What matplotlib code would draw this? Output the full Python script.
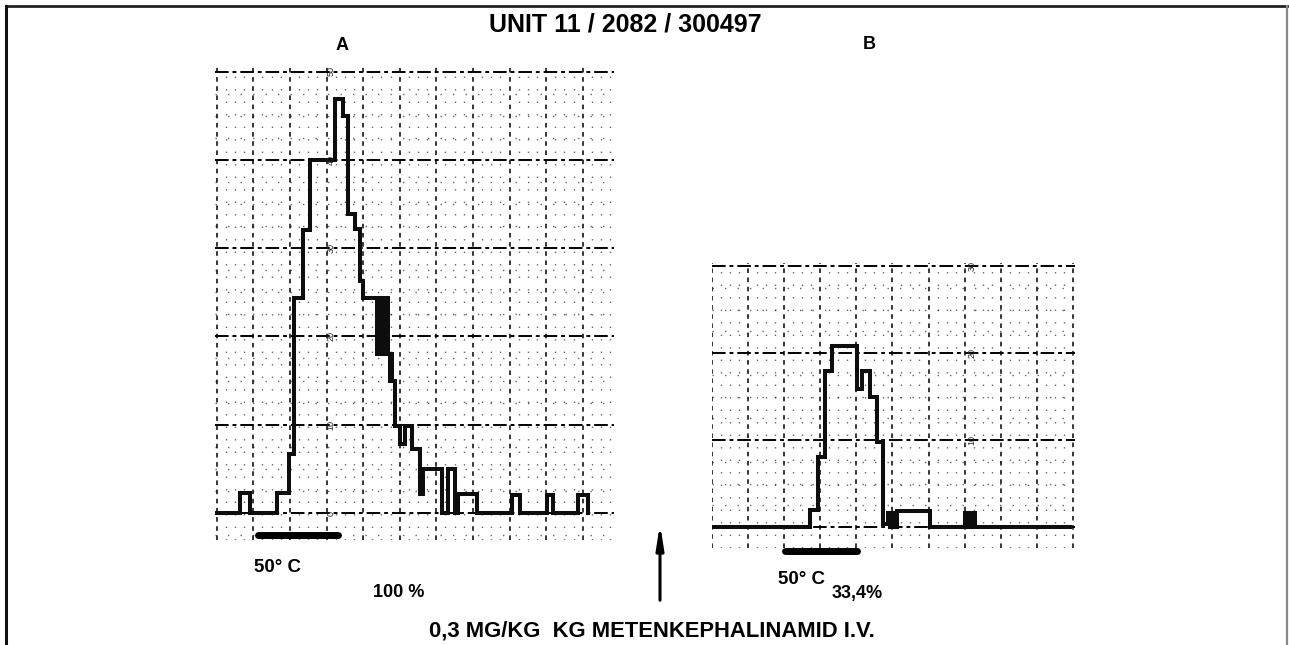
import matplotlib
matplotlib.use("Agg")
import matplotlib.pyplot as plt
from matplotlib.ticker import MultipleLocator
from matplotlib.lines import Line2D

plt.rcParams["font.family"] = ["Liberation Sans", "DejaVu Sans"]

W, H = 1289, 645

# Recording A (control): step edges in chart divisions and counts per bin
a_edges = [0.00, 0.64, 0.91, 1.64, 1.98, 2.10, 2.37, 2.55, 3.23, 3.46, 3.60, 3.78, 3.92, 4.01,
           4.37, 4.41, 4.45, 4.49, 4.53, 4.57, 4.61, 4.65, 4.69, 4.73, 4.77, 4.80, 4.87,
           5.01, 5.14, 5.33, 5.56, 5.65, 6.15, 6.33, 6.51, 6.60, 7.10, 8.06, 8.28, 9.02,
           9.20, 9.88, 10.15]
a_counts = [0, 2.3, 0, 2.3, 6.7, 24.3, 32.0, 40.0, 46.9, 45.0, 33.9, 32.2, 26.3, 24.3,
            18.0, 24.3, 18.0, 24.3, 18.0, 24.3, 18.0, 24.3, 18.0, 15.0, 18.0, 15.0, 9.9,
            7.8, 9.9, 7.3, 2.2, 5.0, 0, 5.0, 0, 2.2, 0, 2.0, 0, 2.0,
            0, 2.0, 0]

# Recording B (after metenkephalinamide)
b_edges = [0.00, 2.72, 2.95, 3.13, 3.32, 4.01, 4.15, 4.38, 4.57, 4.75,
           4.89, 4.93, 4.97, 5.01, 5.05, 5.09, 5.12, 6.05,
           7.00, 7.04, 7.08, 7.12, 7.16, 7.20, 7.24, 7.29, 7.33, 9.92]
b_counts = [0, 2.0, 8.1, 17.9, 20.8, 15.9, 17.9, 14.9, 9.8, 0.3,
            1.6, 0, 1.6, 0, 1.6, 0, 1.8, 0,
            1.6, 0, 1.6, 0, 1.6, 0, 1.6, 0, 0, 0]

# 50 °C heating periods (chart divisions)
heat_a = (1.13, 3.32)
heat_b = (2.02, 4.01)

# scale marks written on the chart paper
scale_a = [0, 10, 20, 30, 40, 50]
scale_b = [10, 20, 30]

title = "UNIT 11 / 2082 / 300497"
note = "0,3 MG/KG  KG METENKEPHALINAMID I.V."
resp_a = "100 %"
resp_b = "33,4%"

fig = plt.figure(figsize=(W / 100, H / 100), dpi=100)

bg = fig.add_axes([0, 0, 1, 1])
bg.set_xlim(0, W)
bg.set_ylim(H, 0)
bg.axis("off")


def px_axes(x0, y0, x1, y1):
    return fig.add_axes([x0 / W, 1 - y1 / H, (x1 - x0) / W, (y1 - y0) / H])


def chart_paper(ax, ymajor):
    ax.xaxis.set_major_locator(MultipleLocator(1))
    ax.xaxis.set_minor_locator(MultipleLocator(0.25))
    ax.yaxis.set_major_locator(MultipleLocator(ymajor))
    ax.yaxis.set_minor_locator(MultipleLocator(ymajor / 4))
    ax.grid(True, axis="y", which="major", color="black", lw=1.4, ls=(0, (7, 2, 2, 2)))
    ax.grid(True, axis="x", which="major", color="black", lw=1.1, ls=(0, (3, 3)))
    ax.grid(True, which="minor", color="black", lw=1.0, ls=(0, (1, 8)), alpha=0.6)
    ax.tick_params(which="both", length=0, labelbottom=False, labelleft=False)
    for s in ax.spines.values():
        s.set_visible(False)
    ax.set_facecolor("none")
    ax.set_axisbelow(True)


# panel A: 36.6 px per division, 8.83 px per count
ax_a = px_axes(216.7 - 0.05 * 36.6, 513 - 50.6 * 8.83, 216.7 + 10.85 * 36.6, 513 + 3.1 * 8.83)
ax_a.set_xlim(-0.05, 10.85)
ax_a.set_ylim(-3.1, 50.6)
chart_paper(ax_a, 10)
ax_a.step(a_edges, a_counts, where="post", color="#0d0d0d", lw=2.9,
          solid_joinstyle="miter")
ax_a.plot(heat_a, [-2.5, -2.5], color="black", lw=5, solid_capstyle="round", clip_on=False)
for v in scale_a:
    ax_a.text(3.12, v, str(v), rotation=90, ha="center", va="center", fontsize=6.5,
              color="#222222")

# panel B: 36.1 px per division, 8.7 px per count
ax_b = px_axes(711.9, 527 - 30.3 * 8.7, 711.9 + 10.05 * 36.1, 527 + 2.4 * 8.7)
ax_b.set_xlim(0, 10.05)
ax_b.set_ylim(-2.4, 30.3)
chart_paper(ax_b, 10)
ax_b.step(b_edges, b_counts, where="post", color="#0d0d0d", lw=2.9,
          solid_joinstyle="miter")
ax_b.plot(heat_b, [-2.8, -2.8], color="black", lw=5, solid_capstyle="round", clip_on=False)
for v in scale_b:
    ax_b.text(7.2, v, str(v), rotation=90, ha="center", va="center", fontsize=6.5,
              color="#222222")

# frame
fig.add_artist(Line2D([6 / W, 1287 / W], [1 - 6 / H, 1 - 6 / H], color="#222222", lw=2))
fig.add_artist(Line2D([6 / W, 6 / W], [1 - 6 / H, 0], color="#111111", lw=2.2))
fig.add_artist(Line2D([1287 / W, 1287 / W], [1 - 6 / H, 0], color="#888888", lw=1.6))

bg.text(625, 31, title, ha="center", va="baseline", fontsize=18, weight="bold")
bg.text(342, 50, "A", ha="center", va="baseline", fontsize=13, weight="bold")
bg.text(869, 49, "B", ha="center", va="baseline", fontsize=13, weight="bold")
bg.text(277, 572, "50° C", ha="center", va="baseline", fontsize=13.5, weight="bold")
bg.text(399, 597, resp_a, ha="center", va="baseline", fontsize=13, weight="bold")
bg.text(802, 584, "50° C", ha="center", va="baseline", fontsize=13.5, weight="bold")
bg.text(857, 598, resp_b, ha="center", va="baseline", fontsize=13, weight="bold")
bg.text(652, 637, note, ha="center", va="baseline", fontsize=15.8, weight="bold")
bg.annotate("", xy=(660, 521), xytext=(660, 603),
            arrowprops=dict(arrowstyle="-|>,head_length=1.4,head_width=0.22",
                            lw=2.2, color="black"))

fig.savefig("out.png", dpi=100)
